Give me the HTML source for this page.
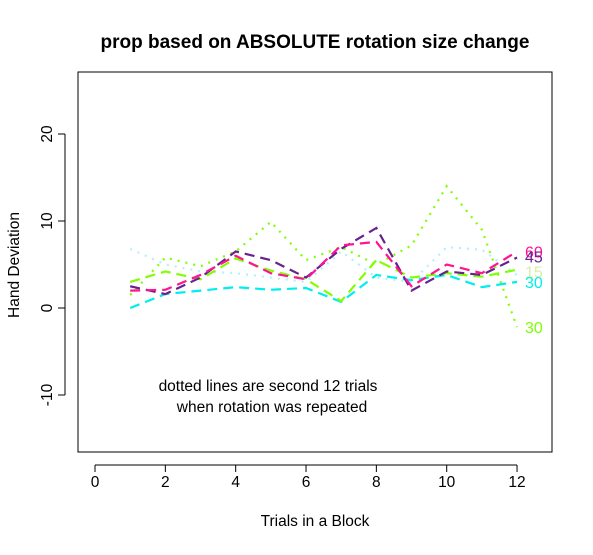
<!DOCTYPE html>
<html><head><style>
body{margin:0;background:#fff}
svg{font-family:"Liberation Sans",Arial,sans-serif}
</style></head><body>
<svg width="593" height="550">
<text x="315" y="48" text-anchor="middle" font-size="19" font-weight="bold">prop based on ABSOLUTE rotation size change</text>
<rect x="78" y="72" width="474" height="380" fill="none" stroke="#000"/>
<g id="xaxis"></g>
<g id="yaxis"></g>
<text x="315" y="526" text-anchor="middle" font-size="15.5">Trials in a Block</text>
<text transform="translate(19,265) rotate(-90)" text-anchor="middle" font-size="15.5">Hand Deviation</text>
<text x="268" y="391" text-anchor="middle" font-size="15.5">dotted lines are second 12 trials</text>
<text x="272" y="412" text-anchor="middle" font-size="15.5">when rotation was repeated</text>
<g id="series"></g>
</svg>
<script>
const trials=[1,2,3,4,5,6,7,8,9,10,11,12];
const xTicks=[0,2,4,6,8,10,12];
const yTicks=[-10,0,10,20];
const dotPaleCyan=[6.8,5.0,4.2,4.0,3.5,3.0,6.5,3.5,3.0,7.0,6.7,3.8];
const dotGreen30=[1.5,5.8,4.8,6.5,9.9,5.5,7.0,5.0,7.2,14.0,9.0,-2.2];
const cyan30=[0,1.6,2.0,2.4,2.1,2.3,0.7,3.8,3.2,3.8,2.4,3.0];
const green15=[3.0,4.2,3.3,5.7,4.3,3.3,0.8,5.5,3.5,4.0,3.6,4.4];
const purple45=[2.5,1.6,3.5,6.5,5.5,3.5,6.8,9.2,2.0,4.2,3.8,5.8];
const pink60=[2.0,2.1,3.8,6.0,4.0,3.3,7.2,7.6,2.5,5.0,4.0,6.5];
const labels=[["60",6.5,"#ff1493"],["45",5.9,"#68228b"],["15",4.2,"#d4f0a0"],["30",3.0,"#00eeee"],["30",-2.2,"#7fff00"]];
const X=v=>95+v*35.17, Y=v=>308-v*8.7;
const NS="http://www.w3.org/2000/svg";
function mk(t,a,p){const e=document.createElementNS(NS,t);for(const k in a)e.setAttribute(k,a[k]);p.appendChild(e);return e;}
const xa=document.getElementById('xaxis'), ya=document.getElementById('yaxis'), sg=document.getElementById('series');
mk('line',{x1:X(0),x2:X(12),y1:465,y2:465,stroke:'#000'},xa);
xTicks.forEach(t=>{mk('line',{x1:X(t),x2:X(t),y1:465,y2:472,stroke:'#000'},xa);
const tx=mk('text',{x:X(t),y:487,'text-anchor':'middle','font-size':15.5},xa);tx.textContent=t;

});
mk('line',{x1:65,x2:65,y1:Y(-10),y2:Y(20),stroke:'#000'},ya);
yTicks.forEach(t=>{mk('line',{x1:58,x2:65,y1:Y(t),y2:Y(t),stroke:'#000'},ya);
const tx=mk('text',{transform:`translate(52,${Y(t)}) rotate(-90)`,'text-anchor':'middle','font-size':15.5},ya);tx.textContent=t;

});
function line(d,c,dash,name){const p=mk('polyline',{points:d.map((v,i)=>X(trials[i])+','+Y(v)).join(' '),fill:'none',stroke:c,'stroke-width':2.2,'stroke-dasharray':dash},sg);

}
line(dotPaleCyan,'#b0f0ff','2 6','dotted-line-15');
line(dotGreen30,'#7fff00','2 6','dotted-line-30');
line(cyan30,'#00eeee','10 6','dashed-line-30');
line(green15,'#7fff00','10 6','dashed-line-15');
line(purple45,'#68228b','10 6','dashed-line-45');
line(pink60,'#ff1493','10 6','dashed-line-60');
labels.forEach(l=>{const t=mk('text',{x:525,y:Y(l[1])+6,'font-size':16,fill:l[2]},sg);t.textContent=l[0];

});
</script>
</body></html>
